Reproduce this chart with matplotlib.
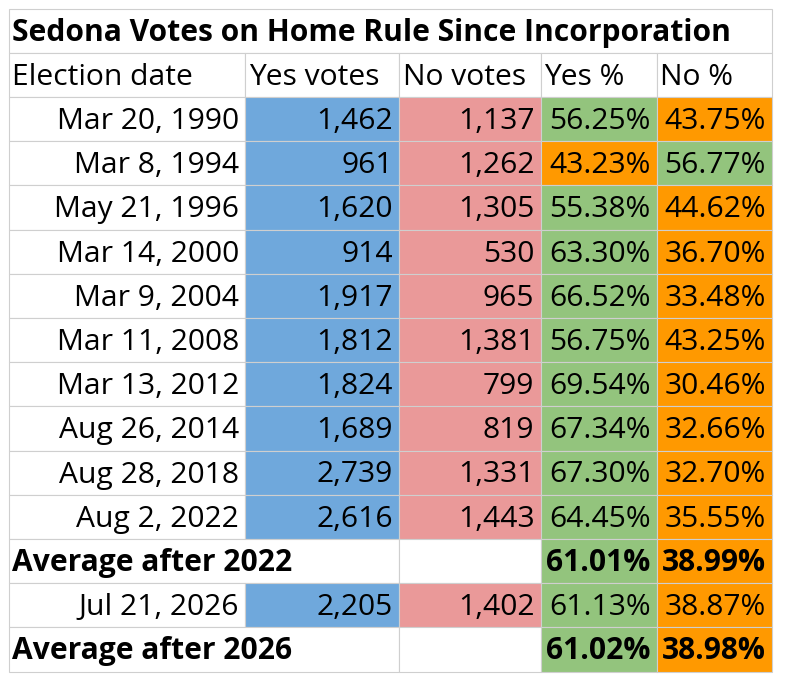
import matplotlib.pyplot as plt
from matplotlib.patches import Rectangle

# Daten der Tabelle
title = 'Sedona Votes on Home Rule Since Incorporation'
headers = ['Election date', 'Yes votes', 'No votes', 'Yes %', 'No %']
dates = ['Mar 20, 1990', 'Mar 8, 1994', 'May 21, 1996', 'Mar 14, 2000', 'Mar 9, 2004',
         'Mar 11, 2008', 'Mar 13, 2012', 'Aug 26, 2014', 'Aug 28, 2018', 'Aug 2, 2022',
         'Jul 21, 2026']
yes_votes = [1462, 961, 1620, 914, 1917, 1812, 1824, 1689, 2739, 2616, 2205]
no_votes = [1137, 1262, 1305, 530, 965, 1381, 799, 819, 1331, 1443, 1402]
yes_pct = [56.25, 43.23, 55.38, 63.30, 66.52, 56.75, 69.54, 67.34, 67.30, 64.45, 61.13]
no_pct = [43.75, 56.77, 44.62, 36.70, 33.48, 43.25, 30.46, 32.66, 32.70, 35.55, 38.87]
avg_labels = ['Average after 2022', 'Average after 2026']
avg_yes = [61.01, 61.02]
avg_no = [38.99, 38.98]

FONT = 'Open Sans'
FS = 21.6
BLUE = '#6fa8dc'
PINK = '#ea9999'
GREEN = '#93c47d'
ORANGE = '#ff9900'
GRID = '#cfcfcf'

col_x = [8.5, 245, 399, 540.5, 656.5, 772]
top = 8.5
rh = 44.2

fig = plt.figure(figsize=(7.86, 6.80), dpi=100)
ax = fig.add_axes([0, 0, 1, 1])
ax.set_xlim(0, 786)
ax.set_ylim(680, 0)
ax.axis('off')


def cell(c0, c1, r, color='white'):
    y = top + r * rh
    ax.add_patch(Rectangle((col_x[c0], y), col_x[c1] - col_x[c0], rh,
                           facecolor=color, edgecolor=GRID, lw=0.8))


def txt(x, r, s, ha='right', bold=False):
    ax.text(x, top + r * rh + 32, s, ha=ha, va='baseline', fontsize=FS,
            family=FONT, fontweight='bold' if bold else 'normal', color='#000000')


# Titel
cell(0, 5, 0)
txt(col_x[0] + 4, 0, title, ha='left', bold=True)

# Kopfzeile
for j, h in enumerate(headers):
    cell(j, j + 1, 1)
    txt(col_x[j] + 4, 1, h, ha='left')


def data_row(r, i):
    cell(0, 1, r)
    cell(1, 2, r, BLUE)
    cell(2, 3, r, PINK)
    yes_win = yes_pct[i] > no_pct[i]
    cell(3, 4, r, GREEN if yes_win else ORANGE)
    cell(4, 5, r, ORANGE if yes_win else GREEN)
    txt(col_x[1] - 6, r, dates[i])
    txt(col_x[2] - 6, r, f'{yes_votes[i]:,}')
    txt(col_x[3] - 6, r, f'{no_votes[i]:,}')
    txt(col_x[4] - 6, r, f'{yes_pct[i]:.2f}%')
    txt(col_x[5] - 6, r, f'{no_pct[i]:.2f}%')


def avg_row(r, k):
    cell(0, 2, r)
    cell(2, 3, r)
    cell(3, 4, r, GREEN)
    cell(4, 5, r, ORANGE)
    txt(col_x[0] + 4, r, avg_labels[k], ha='left', bold=True)
    txt(col_x[4] - 6, r, f'{avg_yes[k]:.2f}%', bold=True)
    txt(col_x[5] - 6, r, f'{avg_no[k]:.2f}%', bold=True)


r = 2
for i in range(10):
    data_row(r, i)
    r += 1
avg_row(r, 0)
r += 1
data_row(r, 10)
r += 1
avg_row(r, 1)

fig.savefig('out.png', dpi=100)
